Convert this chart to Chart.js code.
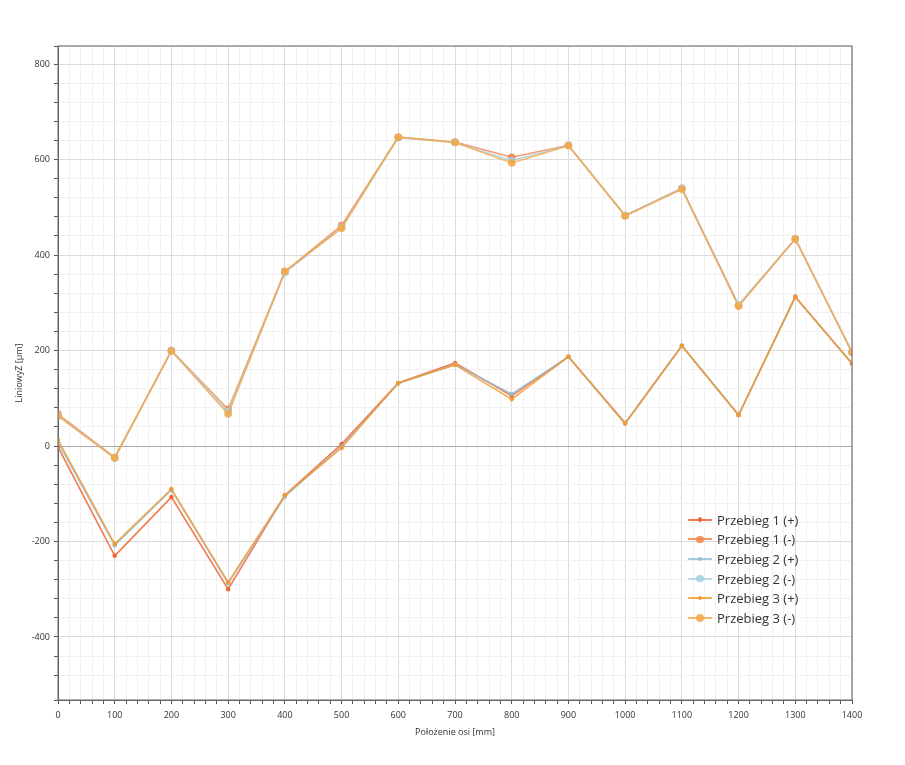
<!DOCTYPE html>
<html lang="pl">
<head>
    <meta charset="UTF-8">
    <title>LiniowyZ</title>
    <script src="https://cdn.jsdelivr.net/npm/chart.js"></script>
    <style>
        body { margin: 0; background: #fff; font-family: "Open Sans", "Noto Sans", sans-serif; }
        #wrap { position: relative; width: 905px; height: 765px; }
        #legend { position: absolute; left: 688px; top: 510px; font-size: 13px; color: #333; }
        .item { height: 19.6px; display: flex; align-items: center; }
        .mark { position: relative; width: 24px; height: 12px; margin-right: 5px; }
        .mark .ln { position: absolute; left: 0; right: 0; top: 5px; height: 2px; }
        .mark .dot { position: absolute; border-radius: 50%; }
    </style>
</head>
<body>
<div id="wrap">
    <canvas id="wykres" width="905" height="765"></canvas>
    <div id="legend"></div>
</div>
<script>
    // Położenie osi [mm]
    const polozenie = [0, 100, 200, 300, 400, 500, 600, 700, 800, 900, 1000, 1100, 1200, 1300, 1400];

    // LiniowyZ [µm]
    const p1plus  = [-2, -230, -107, -300, -103, 4, 132, 174, 105, 187, 48, 210, 65, 313, 173];
    const p1minus = [67, -24, 200, 77, 365, 462, 647, 637, 605, 630, 483, 540, 295, 434, 197];
    const p2plus  = [8, -208, -92, -288, -106, -1, 131, 171, 109, 187, 48, 210, 65, 312, 173];
    const p2minus = [64, -25, 200, 72, 363, 458, 646, 636, 598, 630, 483, 540, 296, 434, 196];
    const p3plus  = [13, -205, -90, -285, -103, -4, 132, 170, 98, 187, 47, 210, 65, 312, 173];
    const p3minus = [63, -25, 199, 67, 366, 456, 647, 636, 593, 629, 482, 538, 293, 434, 196];

    const nazwy = ['Przebieg 1 (+)', 'Przebieg 1 (-)', 'Przebieg 2 (+)', 'Przebieg 2 (-)', 'Przebieg 3 (+)', 'Przebieg 3 (-)'];
    const kolory = ['#f15a24', '#f2834a', '#8fbdd6', '#a9d0e3', '#f39a2c', '#f4a946'];
    const serie = [p1plus, p1minus, p2plus, p2minus, p3plus, p3minus];

    function punkty(wartosci) {
        return polozenie.map((x, i) => ({ x: x, y: wartosci[i] }));
    }

    const datasets = serie.map((s, i) => {
        const minus = i % 2 === 1;
        return {
            label: nazwy[i],
            data: punkty(s),
            borderColor: kolory[i] + 'cc',
            backgroundColor: kolory[i] + 'dd',
            borderWidth: 1.6,
            pointRadius: minus ? 3.8 : 2.3,
            pointBorderWidth: 0,
            tension: 0,
            order: serie.length - 1 - i   // przebieg 3 rysowany na wierzchu
        };
    });

    // ramka wykresu
    const ramka = {
        id: 'ramka',
        afterDraw(chart) {
            const a = chart.chartArea, c = chart.ctx;
            c.save();
            c.strokeStyle = '#777';
            c.lineWidth = 1.2;
            c.strokeRect(a.left, a.top, a.right - a.left, a.bottom - a.top);
            c.restore();
        }
    };

    const tickFont = { family: '"Open Sans", "Noto Sans", sans-serif', size: 9 };

    new Chart(document.getElementById('wykres'), {
        type: 'line',
        data: { datasets: datasets },
        options: {
            responsive: false,
            animation: false,
            layout: { padding: { top: 46, right: 53, bottom: 27, left: 14 } },
            plugins: { legend: { display: false }, tooltip: { enabled: false } },
            scales: {
                x: {
                    type: 'linear',
                    min: 0, max: 1400,
                    afterFit(s) { s.height = 38; },
                    ticks: {
                        stepSize: 20, autoSkip: false, maxRotation: 0,
                        color: '#333', font: tickFont, padding: 6,
                        callback: v => (v % 100 === 0 ? v : '')
                    },
                    grid: {
                        color: c => (c.tick.value % 100 === 0 ? '#dcdcdc' : '#f1f1f1'),
                        tickColor: '#555', tickLength: 4
                    },
                    border: { color: '#555' },
                    title: { display: true, text: 'Położenie osi [mm]', color: '#333', font: tickFont, padding: 0 }
                },
                y: {
                    min: -532, max: 838,
                    afterFit(s) { s.width = 44; },
                    ticks: {
                        stepSize: 40, autoSkip: false,
                        color: '#333', font: tickFont, padding: 4,
                        callback: v => (v % 200 === 0 ? v : '')
                    },
                    grid: {
                        color: c => (c.tick.value === 0 ? '#a8a8a8' : (c.tick.value % 200 === 0 ? '#dcdcdc' : '#f1f1f1')),
                        tickColor: '#555', tickLength: 4
                    },
                    border: { color: '#555' },
                    title: { display: true, text: 'LiniowyZ [µm]', color: '#333', font: tickFont, padding: 0 }
                }
            }
        },
        plugins: [ramka]
    });

    // legenda jako tekst HTML
    const legenda = document.getElementById('legend');
    datasets.forEach((d, i) => {
        const r = d.pointRadius * 2;
        const wiersz = document.createElement('div');
        wiersz.className = 'item';
        wiersz.innerHTML =
            '<span class="mark"><span class="ln" style="background:' + d.borderColor + '"></span>' +
            '<span class="dot" style="width:' + r + 'px;height:' + r + 'px;left:' + (12 - r / 2) + 'px;top:' + (6 - r / 2) + 'px;background:' + d.backgroundColor + '"></span></span>' +
            '<span>' + d.label + '</span>';
        legenda.appendChild(wiersz);
    });
</script>
</body>
</html>
